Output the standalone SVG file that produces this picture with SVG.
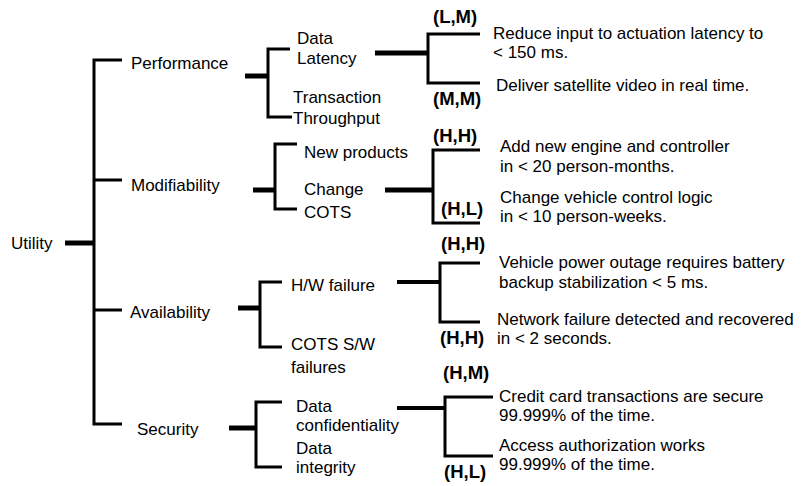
<svg xmlns="http://www.w3.org/2000/svg" width="809" height="486" viewBox="0 0 809 486">
<style>
text{font-family:"Liberation Sans",Arial,sans-serif;font-size:17px;fill:#000}
.t{font-size:17px}
.b{font-weight:bold;font-size:18.5px}
.l{fill:none;stroke:#000;stroke-width:3;stroke-linecap:butt;stroke-linejoin:miter}
.s{fill:none;stroke:#000;stroke-width:5}
.m{fill:none;stroke:#000;stroke-width:4}
</style>
<rect width="809" height="486" fill="#fff"/>
<g id="connectors">
<line class="s" x1="65" y1="243" x2="95" y2="243"/>
<path class="l" d="M122,60 H94 V424 H122 M94,180 H122 M94,310 H122"/>
<line class="s" x1="245" y1="76" x2="268" y2="76"/>
<path class="l" d="M290,49 H268 V117 H292"/>
<line class="s" x1="253" y1="190" x2="275" y2="190"/>
<path class="l" d="M297,144 H275 V209 H297"/>
<line class="s" x1="238" y1="308" x2="260" y2="308"/>
<path class="l" d="M282,282 H260 V347 H282"/>
<line class="s" x1="229" y1="428" x2="256" y2="428"/>
<path class="l" d="M282,402 H256 V467 H282"/>
<line class="s" x1="375" y1="53" x2="428" y2="53"/>
<path class="l" d="M480,34 H428 V83 H480"/>
<line class="s" x1="385" y1="190" x2="433" y2="190"/>
<path class="l" d="M480,150 H433 V223 H480"/>
<line class="m" x1="397" y1="282" x2="440" y2="282"/>
<path class="l" d="M480,263 H440 V322 H480"/>
<line class="m" x1="397" y1="408" x2="445" y2="408"/>
<path class="l" d="M493,397 H445 V456 H493"/>
</g>
<g id="utility"><text x="11" y="249">Utility</text></g>
<g id="performance"><text x="131" y="69">Performance</text></g>
<g id="modifiability"><text x="131" y="191">Modifiability</text></g>
<g id="availability"><text x="130" y="318">Availability</text></g>
<g id="security"><text x="137" y="435">Security</text></g>
<g id="data-latency"><text x="297" y="44">Data<tspan x="297" y="63.5">Latency</tspan></text></g>
<g id="transaction-throughput"><text x="293" y="103">Transaction<tspan x="293" y="124">Throughput</tspan></text></g>
<g id="new-products"><text x="304" y="158">New products</text></g>
<g id="change-cots"><text x="304" y="195">Change<tspan x="304" y="218">COTS</tspan></text></g>
<g id="hw-failure"><text x="291" y="291">H/W failure</text></g>
<g id="cots-sw-failures"><text x="291" y="350">COTS S/W<tspan x="291" y="373">failures</tspan></text></g>
<g id="data-confidentiality"><text x="296" y="411.5">Data<tspan x="296" y="431">confidentiality</tspan></text></g>
<g id="data-integrity"><text x="296" y="453.5">Data<tspan x="296" y="473">integrity</tspan></text></g>
<g id="leaf-latency"><text class="b" x="433" y="23">(L,M)</text><text class="t" x="493" y="38.5">Reduce input to actuation latency to<tspan x="493" y="58">&lt; 150 ms.</tspan></text></g>
<g id="leaf-video"><text class="b" x="433" y="105">(M,M)</text><text class="t" x="496" y="91">Deliver satellite video in real time.</text></g>
<g id="leaf-engine"><text class="b" x="433" y="142">(H,H)</text><text class="t" x="500" y="152">Add new engine and controller<tspan x="500" y="172">in &lt; 20 person-months.</tspan></text></g>
<g id="leaf-control"><text class="b" x="441" y="215">(H,L)</text><text class="t" x="500" y="202.5">Change  vehicle control logic<tspan x="500" y="222">in &lt; 10 person-weeks.</tspan></text></g>
<g id="leaf-power"><text class="b" x="441" y="250">(H,H)</text><text class="t" x="499" y="268">Vehicle power outage requires battery<tspan x="499" y="288">backup stabilization &lt; 5 ms.</tspan></text></g>
<g id="leaf-network"><text class="b" x="440" y="344">(H,H)</text><text class="t" x="497" y="324.5">Network failure detected and recovered<tspan x="497" y="344">in &lt; 2 seconds.</tspan></text></g>
<g id="leaf-credit"><text class="b" x="443" y="379">(H,M)</text><text class="t" x="499" y="401.5">Credit card transactions are secure<tspan x="499" y="421">99.999% of the time.</tspan></text></g>
<g id="leaf-access"><text class="b" x="444" y="478">(H,L)</text><text class="t" x="499" y="450.5">Access authorization works<tspan x="499" y="470">99.999% of the time.</tspan></text></g>
</svg>
